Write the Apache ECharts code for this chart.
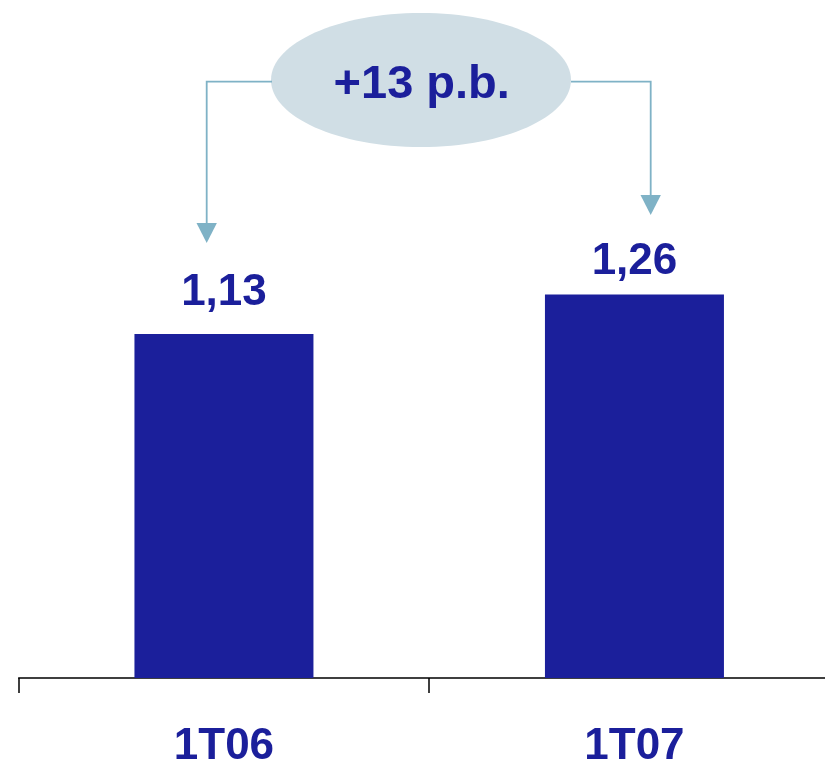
<!DOCTYPE html>
<html>
<head>
<meta charset="utf-8">
<script src="https://cdn.jsdelivr.net/npm/echarts@6/dist/echarts.min.js"></script>
<style>
html,body{margin:0;padding:0;background:#fff;}
#chart{width:825px;height:765px;}
</style>
</head>
<body>
<div id="chart"></div>
<script>
// Data
const categories = ['1T06', '1T07'];
const values = [1.13, 1.26];
const changeLabel = '+13 p.b.';

// Styling (not data)
const labelGaps = [19, 11];
const barColor = '#1B1F9B';
const textColor = '#1B1F9B';
const arrowColor = '#7FB2C6';
const bubbleColor = '#D0DEE5';
const font = '"Liberation Sans", Arial, sans-serif';

const chart = echarts.init(document.getElementById('chart'), null, {renderer: 'canvas'});

const option = {
  animation: false,
  backgroundColor: '#ffffff',
  grid: {left: 18.7, width: 821, top: 8.3, bottom: 87, containLabel: false, outerBoundsMode: 'none'},
  xAxis: {
    type: 'category',
    data: categories,
    axisLine: {show: true, lineStyle: {color: '#000', width: 1.5}},
    axisTick: {show: true, length: 15, lineStyle: {color: '#000', width: 1.5}},
    axisLabel: {
      margin: 47,
      fontSize: 44,
      fontWeight: 'bold',
      fontFamily: font,
      color: textColor
    }
  },
  yAxis: {
    type: 'value',
    min: 0,
    max: 2.2,
    show: false,
    splitLine: {show: false}
  },
  series: [{
    type: 'bar',
    barWidth: 179,
    itemStyle: {color: barColor},
    label: {
      show: true,
      position: 'top',
      fontSize: 44,
      fontWeight: 'bold',
      fontFamily: font,
      color: textColor,
      formatter: p => p.value.toFixed(2).replace('.', ',')
    },
    data: values.map((v, i) => ({value: v, label: {distance: labelGaps[i]}}))
  }],
  graphic: [
    {type: 'ellipse', shape: {cx: 421, cy: 80, rx: 150, ry: 67}, style: {fill: bubbleColor}, z: 10},
    {type: 'text', x: 421.7, y: 85, style: {
      text: changeLabel, fill: textColor, font: 'bold 47px ' + font,
      textAlign: 'center', textVerticalAlign: 'middle'
    }, z: 11},
    {type: 'polyline', shape: {points: [[272, 81.7], [206.7, 81.7], [206.7, 224]]},
      style: {stroke: arrowColor, lineWidth: 1.8, fill: null}, z: 10},
    {type: 'polygon', shape: {points: [[196.5, 223], [216.9, 223], [206.7, 243]]},
      style: {fill: arrowColor}, z: 10},
    {type: 'polyline', shape: {points: [[571, 81.7], [650.7, 81.7], [650.7, 196]]},
      style: {stroke: arrowColor, lineWidth: 1.8, fill: null}, z: 10},
    {type: 'polygon', shape: {points: [[640.5, 195], [660.9, 195], [650.7, 215]]},
      style: {fill: arrowColor}, z: 10}
  ]
};

chart.setOption(option);
</script>
</body>
</html>
